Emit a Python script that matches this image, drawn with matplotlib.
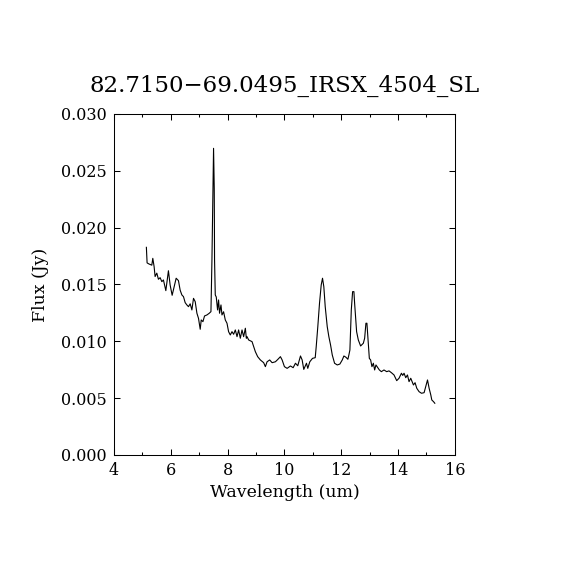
import numpy as np
import matplotlib
matplotlib.use("Agg")
import matplotlib.pyplot as plt
from matplotlib.ticker import MultipleLocator

# spectrum (wavelength in um, flux in Jy)
wave = [5.140, 5.165, 5.235, 5.331, 5.366, 5.412, 5.447, 5.507, 5.564, 5.624,
        5.684, 5.740, 5.825, 5.916, 5.976, 6.047, 6.118, 6.188, 6.269, 6.329,
        6.389, 6.446, 6.506, 6.566, 6.622, 6.682, 6.742, 6.799, 6.859, 6.919,
        6.975, 7.035, 7.071, 7.131, 7.187, 7.272, 7.353, 7.413, 7.448, 7.484,
        7.505, 7.529, 7.540, 7.565, 7.600, 7.646, 7.681, 7.716, 7.766, 7.801,
        7.858, 7.918, 7.978, 8.034, 8.094, 8.154, 8.211, 8.271, 8.331, 8.387,
        8.447, 8.507, 8.564, 8.624, 8.659, 8.684, 8.740, 8.860, 8.916, 8.976,
        9.058, 9.153, 9.269, 9.329, 9.389, 9.481, 9.566, 9.682, 9.764, 9.859,
        9.919, 10.000, 10.095, 10.212, 10.307, 10.388, 10.469, 10.565, 10.624, 10.681,
        10.776, 10.822, 10.893, 10.988, 11.084, 11.119, 11.175, 11.235, 11.295, 11.341,
        11.387, 11.436, 11.507, 11.564, 11.624, 11.684, 11.765, 11.860, 11.952, 12.036,
        12.093, 12.164, 12.234, 12.269, 12.305, 12.354, 12.400, 12.446, 12.471, 12.541,
        12.601, 12.682, 12.778, 12.824, 12.869, 12.904, 12.940, 12.989, 13.035, 13.081,
        13.131, 13.176, 13.222, 13.282, 13.342, 13.413, 13.505, 13.600, 13.681, 13.766,
        13.858, 13.953, 14.034, 14.119, 14.165, 14.211, 14.271, 14.331, 14.387, 14.447,
        14.542, 14.599, 14.659, 14.740, 14.825, 14.917, 14.988, 15.037, 15.094, 15.153,
        15.188, 15.249, 15.294]

flux = [0.01827, 0.01690, 0.01680, 0.01670, 0.01730, 0.01657, 0.01570, 0.01600, 0.01546, 0.01560,
        0.01525, 0.01540, 0.01446, 0.01621, 0.01496, 0.01405, 0.01480, 0.01555, 0.01534, 0.01450,
        0.01408, 0.01393, 0.01340, 0.01320, 0.01305, 0.01330, 0.01276, 0.01378, 0.01349, 0.01247,
        0.01202, 0.01106, 0.01188, 0.01173, 0.01223, 0.01232, 0.01247, 0.01261, 0.01716, 0.02346,
        0.02698, 0.02346, 0.01716, 0.01408, 0.01390, 0.01276, 0.01364, 0.01247, 0.01320, 0.01232,
        0.01260, 0.01188, 0.01159, 0.01085, 0.01056, 0.01085, 0.01062, 0.01100, 0.01041, 0.01100,
        0.01027, 0.01100, 0.01041, 0.01115, 0.01027, 0.01041, 0.01012, 0.00997, 0.00953, 0.00909,
        0.00865, 0.00836, 0.00812, 0.00777, 0.00820, 0.00836, 0.00812, 0.00820, 0.00840, 0.00865,
        0.00836, 0.00777, 0.00762, 0.00783, 0.00768, 0.00807, 0.00785, 0.00871, 0.00836, 0.00753,
        0.00807, 0.00762, 0.00820, 0.00850, 0.00856, 0.00953, 0.01129, 0.01335, 0.01496, 0.01555,
        0.01480, 0.01305, 0.01129, 0.01041, 0.00968, 0.00880, 0.00807, 0.00792, 0.00800, 0.00836,
        0.00871, 0.00860, 0.00842, 0.00880, 0.00924, 0.01276, 0.01437, 0.01437, 0.01335, 0.01085,
        0.01012, 0.00959, 0.00983, 0.01027, 0.01159, 0.01159, 0.01027, 0.00850, 0.00836, 0.00777,
        0.00807, 0.00748, 0.00792, 0.00770, 0.00748, 0.00733, 0.00748, 0.00733, 0.00740, 0.00724,
        0.00704, 0.00654, 0.00675, 0.00719, 0.00700, 0.00719, 0.00680, 0.00704, 0.00645, 0.00675,
        0.00616, 0.00636, 0.00587, 0.00557, 0.00543, 0.00548, 0.00616, 0.00660, 0.00587, 0.00528,
        0.00484, 0.00469, 0.00455]

title = "82.7150\u221269.0495_IRSX_4504_SL"

plt.rcParams['font.family'] = ['DejaVu Serif']

fig = plt.figure(figsize=(5.7, 5.7), dpi=100, facecolor='white')
ax = fig.add_axes([0.2, 0.2018, 0.598, 0.5982])

ax.plot(wave, flux, color='black', lw=0.8)

ax.set_xlim(4, 16)
ax.set_ylim(0, 0.03)
ax.xaxis.set_major_locator(MultipleLocator(2))
ax.xaxis.set_minor_locator(MultipleLocator(1))
ax.yaxis.set_major_locator(MultipleLocator(0.005))
ax.yaxis.set_major_formatter(plt.FormatStrFormatter('%.3f'))

ax.tick_params(which='both', direction='in', top=True, right=True, width=0.75,
               labelsize=11.5, pad=5)
ax.tick_params(which='major', length=4)
ax.tick_params(which='minor', length=2.2)
for s in ax.spines.values():
    s.set_linewidth(0.75)

ax.set_xlabel("Wavelength (um)", fontsize=12.5, labelpad=4)
ax.set_ylabel("Flux (Jy)", fontsize=12.5, labelpad=9)
ax.set_title(title, fontsize=16.5, pad=16)

fig.savefig("out.png", dpi=100)
